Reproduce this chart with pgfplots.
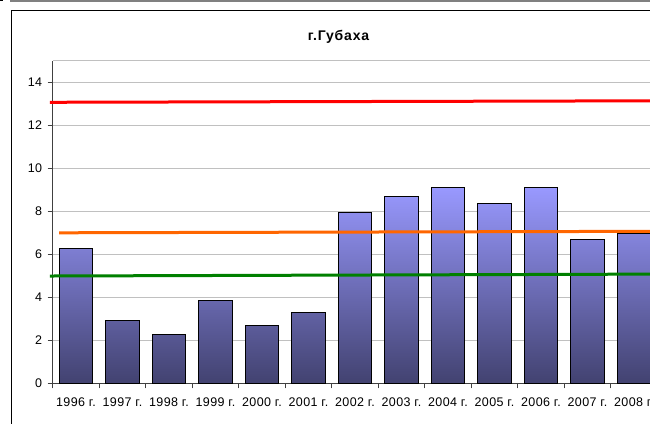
\documentclass[border=0pt]{standalone}
\usepackage{fontspec}
\setmainfont{Liberation Sans}
\newfontfamily\titlefont{Liberation Sans}[LetterSpace=6]
\newfontfamily\tickfont{Liberation Sans}[LetterSpace=3]
\usepackage{pgfplots}
\pgfplotsset{compat=1.18}
\definecolor{barlight}{RGB}{153,153,255}
\definecolor{barmid}{RGB}{125,125,210}
\definecolor{bardark}{RGB}{66,66,112}
\definecolor{gridgray}{RGB}{192,192,192}
\definecolor{lred}{RGB}{255,0,0}
\definecolor{lorange}{RGB}{255,102,0}
\definecolor{lgreen}{RGB}{0,128,0}
\begin{document}
\begin{tikzpicture}[x=1pt,y=1pt]
\useasboundingbox (0,0) rectangle (650,423);
\clip (0,0) rectangle (650,423);
\fill[white] (0,0) rectangle (650,423);
\fill[black!50] (10,420.7) rectangle (660,423);
\fill[black] (0,422) rectangle (3,423);
\draw[black, line width=1pt] (11.5,-10) -- (11.5,412.5) -- (700,412.5);
\node[font=\titlefont\bfseries\fontsize{14}{16}\selectfont] at (338.5,386) {г.Губаха};
\begin{axis}[
  at={(52.7pt,39.7pt)}, anchor=south west,
  scale only axis, width=604.5pt, height=322.5pt,
  xmin=-0.5, xmax=12.5, ymin=0, ymax=15,
  clip=false,
  axis x line*=bottom, axis y line*=left,
  axis line style={black!75, line width=0.8pt},
  ytick={0,2,...,14},
  extra y ticks={15}, extra y tick labels={},
  extra y tick style={major tick length=0pt},
  ymajorgrids, grid style={gridgray, line width=1pt},
  xtick={0,...,12},
  xticklabels={1996 г.,1997 г.,1998 г.,1999 г.,2000 г.,2001 г.,2002 г.,2003 г.,2004 г.,2005 г.,2006 г.,2007 г.,2008 г.},
  minor xtick={-0.5,0.5,...,12.5},
  tick align=outside, major tick length=5pt, minor tick length=5pt,
  major x tick style={draw=none},
  minor x tick style={black!75, line width=0.8pt},
  major y tick style={black!75, line width=0.8pt},
  tick label style={font=\tickfont\fontsize{12.5}{14}\selectfont},
  /pgf/number format/assume math mode=true,
  yticklabel style={xshift=-2pt},
  xticklabel style={anchor=north, yshift=-6pt},
]
\addplot[ybar, bar width=33.4pt, draw=black, line width=0.8pt,
  shading=axis, top color=barlight, middle color=barmid, bottom color=bardark]
  coordinates {(0,6.28) (1,2.91) (2,2.29) (3,3.84) (4,2.71) (5,3.30) (6,7.93) (7,8.71) (8,9.13) (9,8.37) (10,9.13) (11,6.70) (12,6.98)};
\addplot[lred, line width=3pt] coordinates {(-0.56,13.07) (12.6,13.14)};
\addplot[lorange, line width=3pt] coordinates {(-0.36,7.0) (12.6,7.07)};
\addplot[lgreen, line width=3pt] coordinates {(-0.56,4.99) (12.6,5.08)};
\end{axis}
\end{tikzpicture}
\end{document}
